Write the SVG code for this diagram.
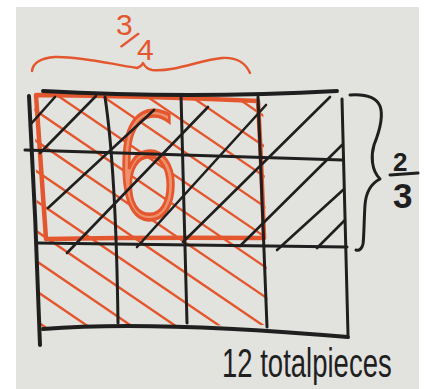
<svg xmlns="http://www.w3.org/2000/svg" width="425" height="389" viewBox="0 0 425 389">
<defs>
<style>
.ink{fill:none;stroke:#1f1f1f;stroke-linecap:round;stroke-linejoin:round}
.grid{stroke-width:3}
.frame{stroke-width:4}
.hb{stroke-width:2.6}
.red{fill:none;stroke:#e4572e;stroke-linecap:round;stroke-linejoin:round}
.hr{stroke-width:2.4}
.rect{stroke-width:4.5}
.t{font-family:"Liberation Sans","DejaVu Sans",sans-serif}
</style>
<clipPath id="redclip"><polygon points="34,94 263,99 268,325 40,327"/></clipPath>
</defs>
<rect width="425" height="389" fill="#ffffff"/>
<rect x="16" y="7" width="403" height="382" fill="#e2e2de"/>

<g id="red-hatching" class="red hr" clip-path="url(#redclip)">
<path d="M20,310 L280,487"/>
<path d="M20,280 L280,457"/>
<path d="M20,250 L280,427"/>
<path d="M20,220 L280,397"/>
<path d="M20,190 L280,367"/>
<path d="M20,160 L280,337"/>
<path d="M20,130 L280,307"/>
<path d="M20,100 L280,277"/>
<path d="M20,70 L280,247"/>
<path d="M20,40 L280,217"/>
<path d="M20,10 L280,187"/>
<path d="M20,-20 L280,157"/>
<path d="M20,-50 L280,127"/>
<path d="M20,-80 L280,97"/>
</g>

<g id="shaded-region" class="red rect">
<path d="M36,95 Q150,96 258,101 L261,160 L264,238 Q150,237 46,239 Q41,170 36,95 Z"/>
</g>

<g id="label-six">
<text x="113" y="218" font-family="'DejaVu Sans','Liberation Sans',sans-serif" font-weight="200" font-size="144" textLength="70" lengthAdjust="spacingAndGlyphs" fill="#ee906c" stroke="#e4572e" stroke-width="3.5">6</text>
</g>

<g id="black-hatching" class="ink hb">
<path d="M30,125 L55,97"/>
<path d="M40,153 L96,96"/>
<path d="M48,208 L154,110"/>
<path d="M67,253 L208,107"/>
<path d="M137,247 L266,105"/>
<path d="M183,242 L330,97"/>
<path d="M240,246 L342,145"/>
<path d="M277,250 L343,190"/>
<path d="M317,248 L345,220"/>
</g>

<g id="grid" class="ink">
<path class="frame" d="M43,91 Q190,99 337,91"/>
<path class="frame" d="M29,96 Q36,220 40,345"/>
<path class="grid" d="M342,99 L348,335"/>
<path class="frame" d="M43,329 Q150,320 348,337"/>
<path class="grid" d="M25,150 L343,160"/>
<path class="grid" d="M37,243 L347,247"/>
<path class="grid" d="M105,97 Q116,170 118,323"/>
<path class="grid" d="M181,95 L187,323"/>
<path class="grid" d="M258,97 L267,327"/>
</g>

<g id="connectors">
<path id="brace-width" class="red" stroke-width="2.4" d="M32,71 C33,62 42,58 55,57 C80,56 110,64 137,68 Q141,67 143,63 Q146,69 152,70 C175,72 200,60 222,58 C238,57 246,64 250,73"/>
<path id="brace-height" class="ink" stroke-width="3" d="M350,95 C365,94 376,97 380,106 C384,117 378,135 374,145 C371,155 371,170 380,179 C372,183 366,192 365,205 C364,220 364,238 363,244 C362,249 359,251 356,250"/>
</g>

<g id="label-three-quarters">
<text class="t" fill="#e4572e" x="116 120 137" y="35 46 60" rotate="0 38 0" font-size="30">3/4</text>
</g>

<g id="label-two-thirds" class="t" fill="#1f1f1f" font-weight="bold">
<text x="393" y="171" font-size="26">2</text>
<path class="ink" stroke-width="3" d="M390,175 L418,173"/>
<text x="393" y="208" font-size="35">3</text>
</g>

<g id="label-total">
<text class="t" transform="translate(222,377) scale(1,1.45)" x="0" y="0" font-size="27.5" fill="#1f1f1f">12 totalpieces</text>
</g>
</svg>
